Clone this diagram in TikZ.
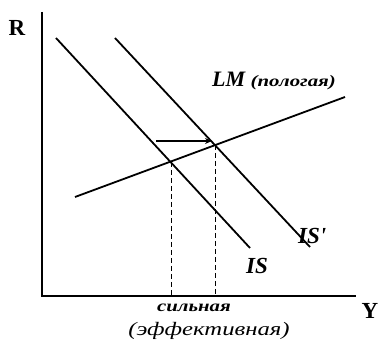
\documentclass[tikz,border=0pt]{standalone}
\usepackage{fontspec}
\setmainfont{Liberation Serif}
\usetikzlibrary{arrows.meta}
\begin{document}
\begin{tikzpicture}[x=1pt,y=-1pt,
  curve/.style={line width=1.8pt},
  axis/.style={line width=2.6pt},
  guide/.style={line width=0.9pt,dash pattern=on 5pt off 3pt},
  lbl/.style={inner sep=0pt,font=\bfseries\itshape}]
\useasboundingbox (0,0) rectangle (378,344);
% axes
\coordinate (O) at (42,296);
\coordinate (Ytop) at (42,12);
\coordinate (Xend) at (356,296);
\draw[axis] (Ytop) -- (O) -- (Xend);
\node[inner sep=0pt,font=\fontsize{23}{23}\selectfont\bfseries] (R) at (17,28) {R};
\node[inner sep=0pt,font=\fontsize{23}{23}\selectfont\bfseries] (Y) at (370,311) {Y};
% curves
\coordinate (is1) at (56,38);
\coordinate (is2) at (250,248);
\coordinate (isp1) at (115,38);
\coordinate (isp2) at (310,247);
\coordinate (lm1) at (75,197);
\coordinate (lm2) at (345,97);
\draw[curve] (is1) -- (is2);
\draw[curve] (isp1) -- (isp2);
\draw[curve] (lm1) -- (lm2);
% equilibria
\coordinate (E1) at (171,162);
\coordinate (E2) at (215,145);
\coordinate (E1b) at (171,296);
\coordinate (E2b) at (215,296);
\draw[guide] (E1) -- (E1b);
\draw[guide] (E2) -- (E2b);
% arrow
\coordinate (a1) at (156,141);
\coordinate (a2) at (212,141);
\draw[line width=2pt,-{Stealth[length=7pt,width=6pt]}] (a1) -- (a2);
% labels
\node[lbl,anchor=base west] (LM) at (212,87) {\fontsize{22}{22}\selectfont LM \fontsize{16}{16}\selectfont\scalebox{1.3}[1]{(пологая)}};
\node[lbl,anchor=base west,font=\fontsize{23}{23}\selectfont\bfseries\itshape] (ISp) at (298,244) {IS\textquotesingle};
\node[lbl,anchor=base west,font=\fontsize{23}{23}\selectfont\bfseries\itshape] (IS) at (246,274) {IS};
\node[lbl,anchor=base,font=\fontsize{16}{16}\selectfont\bfseries\itshape] (s) at (194,312) {\scalebox{1.3}[1]{сильная}};
\node[inner sep=0pt,anchor=base,font=\fontsize{19}{19}\selectfont\itshape] (e) at (209,336) {\scalebox{1.3}[1]{(эффективная)}};
\end{tikzpicture}
\end{document}
